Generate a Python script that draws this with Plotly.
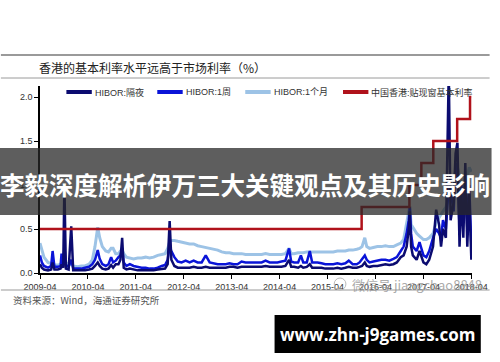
import plotly.graph_objects as go

# ---------------- data ----------------
dates = [
    # 2009
    "2009-04-01","2009-04-15","2009-05-01","2009-06-01","2009-06-25","2009-07-06","2009-07-20","2009-08-15",
    "2009-09-05","2009-09-12","2009-09-25","2009-10-04","2009-10-15","2009-11-05","2009-11-25","2009-12-10",
    # 2010
    "2010-01-10","2010-02-10","2010-03-10","2010-04-10","2010-05-05","2010-05-25","2010-06-15","2010-06-30",
    "2010-07-20","2010-08-15","2010-09-05","2010-09-25","2010-10-10","2010-10-30","2010-11-20","2010-12-05",
    "2010-12-18","2010-12-30",
    # 2011
    "2011-01-20","2011-02-15","2011-03-15","2011-04-15","2011-05-15","2011-06-15","2011-07-15","2011-08-15",
    "2011-09-15","2011-10-15","2011-11-10","2011-11-30","2011-12-15","2011-12-28",
    # 2012
    "2012-01-20","2012-02-15","2012-03-15","2012-04-15","2012-05-15","2012-06-15","2012-07-15","2012-08-15",
    "2012-09-15","2012-10-15","2012-11-15","2012-12-15",
    # 2013
    "2013-01-15","2013-02-15","2013-03-15","2013-04-15","2013-05-15","2013-06-15","2013-07-15","2013-08-15",
    "2013-09-15","2013-10-15","2013-11-15","2013-12-15",
    # 2014
    "2014-01-15","2014-02-15","2014-03-15","2014-04-15","2014-05-15","2014-06-12","2014-06-28","2014-07-20",
    "2014-08-20","2014-09-10","2014-09-28","2014-10-25","2014-11-17","2014-12-05","2014-12-25",
    # 2015
    "2015-01-15","2015-02-15","2015-03-15","2015-04-15","2015-05-15","2015-06-15","2015-07-15","2015-08-15",
    "2015-09-10","2015-10-10","2015-11-10","2015-12-01","2015-12-20",
    # 2016
    "2016-01-10","2016-01-25","2016-02-15","2016-03-15","2016-04-15","2016-05-15","2016-06-15","2016-07-15",
    "2016-08-15","2016-09-10","2016-10-10","2016-11-01","2016-11-24","2016-12-10","2016-12-18","2016-12-28",
    # 2017-2018
    "2017-01-10","2017-02-08","2017-03-02","2017-04-01","2017-04-23","2017-05-15","2017-06-13","2017-07-07",
    "2017-07-29","2017-08-13","2017-08-28","2017-09-19","2017-10-11","2017-10-25","2017-11-17","2017-12-02",
    "2017-12-16","2018-01-01","2018-01-15","2018-01-30","2018-02-14","2018-03-01","2018-03-16","2018-04-01",
]

hibor_overnight = [
    0.10,0.06,0.04,0.03,0.04,0.12,0.04,0.04,0.05,0.10,0.06,1.00,0.05,0.04,0.53,0.03,
    0.03,0.03,0.03,0.04,0.05,0.08,0.12,0.08,0.05,0.04,0.05,0.09,0.06,0.10,0.10,0.15,0.40,0.06,
    0.04,0.05,0.04,0.03,0.03,0.03,0.03,0.03,0.04,0.05,0.05,0.10,0.59,0.15,
    0.08,0.06,0.06,0.06,0.06,0.07,0.06,0.06,0.07,0.06,0.06,0.06,
    0.06,0.06,0.07,0.07,0.06,0.07,0.07,0.07,0.07,0.07,0.07,0.08,
    0.07,0.07,0.07,0.07,0.08,0.15,0.07,0.07,0.06,0.08,0.06,0.07,0.10,0.06,0.06,
    0.06,0.06,0.05,0.05,0.05,0.06,0.05,0.06,0.07,0.06,0.06,0.07,0.08,
    0.12,0.08,0.07,0.08,0.08,0.09,0.10,0.09,0.10,0.12,0.18,0.20,0.30,0.50,0.70,0.30,
    0.20,0.15,0.25,0.12,0.10,0.15,0.30,0.72,0.55,0.30,0.50,0.40,2.30,0.60,0.80,1.36,
    1.48,0.30,0.90,0.40,1.25,0.30,0.90,0.15,
]

hibor_1w = [
    0.20,0.12,0.08,0.06,0.08,0.25,0.07,0.07,0.08,0.22,0.10,0.30,0.09,0.07,0.15,0.05,
    0.05,0.05,0.06,0.07,0.10,0.15,0.26,0.16,0.10,0.08,0.10,0.18,0.12,0.14,0.18,0.20,0.28,0.12,
    0.08,0.10,0.08,0.07,0.06,0.06,0.05,0.05,0.06,0.08,0.09,0.15,0.30,0.25,
    0.18,0.13,0.12,0.14,0.12,0.14,0.12,0.12,0.20,0.12,0.11,0.10,
    0.10,0.10,0.11,0.10,0.10,0.13,0.12,0.12,0.12,0.12,0.12,0.14,
    0.12,0.12,0.12,0.13,0.14,0.28,0.13,0.12,0.12,0.20,0.12,0.12,0.25,0.12,0.12,
    0.12,0.11,0.10,0.10,0.10,0.11,0.10,0.11,0.14,0.10,0.10,0.12,0.16,
    0.20,0.15,0.12,0.13,0.14,0.15,0.15,0.14,0.16,0.18,0.25,0.30,0.45,0.60,0.75,0.45,
    0.30,0.25,0.35,0.20,0.18,0.25,0.40,0.50,0.45,0.40,0.60,0.50,1.00,0.94,0.70,1.25,
    1.17,0.50,1.00,0.60,1.10,0.50,1.00,0.30,
]

hibor_1m = [
    0.34,0.25,0.18,0.12,0.10,0.10,0.09,0.09,0.10,0.12,0.12,0.13,0.12,0.10,0.10,0.08,
    0.07,0.08,0.08,0.10,0.15,0.30,0.52,0.40,0.30,0.25,0.24,0.28,0.28,0.22,0.22,0.25,0.26,0.22,
    0.18,0.17,0.16,0.17,0.17,0.18,0.17,0.18,0.20,0.21,0.22,0.28,0.35,0.37,
    0.37,0.36,0.35,0.34,0.33,0.33,0.31,0.30,0.29,0.28,0.27,0.26,
    0.24,0.23,0.23,0.22,0.22,0.22,0.21,0.21,0.21,0.21,0.21,0.22,
    0.21,0.21,0.21,0.21,0.22,0.28,0.22,0.22,0.23,0.23,0.23,0.24,0.24,0.24,0.24,
    0.24,0.24,0.24,0.24,0.24,0.25,0.25,0.25,0.26,0.26,0.27,0.28,0.30,
    0.40,0.30,0.28,0.29,0.30,0.30,0.31,0.30,0.30,0.32,0.34,0.38,0.57,0.70,0.76,0.55,
    0.52,0.45,0.42,0.38,0.38,0.40,0.45,0.57,0.63,0.66,0.70,0.75,0.85,0.95,1.05,1.15,
    1.20,1.10,1.00,0.90,1.00,1.10,1.20,1.15,
]

base_dates = ["2009-04-01","2015-12-17","2016-12-15","2017-03-16","2017-06-15","2017-12-14","2018-03-22","2018-04-01"]
base_rate = [0.50,0.75,1.00,1.25,1.50,1.75,2.00,2.00]

tick_dates = ["2009-04-01","2010-04-01","2011-04-01","2012-04-01","2013-04-01",
              "2014-04-01","2015-04-01","2016-04-01","2017-04-01","2018-04-01"]
tick_labels = ["2009-04","2010-04","2011-04","2012-04","2013-04",
               "2014-04","2015-04","2016-04","2017-04","2018-04"]
y_ticks = [0.0, 0.5, 1.0, 1.5, 2.0]
y_labels = ["0.0", "0.5", "1.0", "1.5", "2.0"]

names = ["HIBOR:隔夜", "HIBOR:1周", "HIBOR:1个月", "中国香港:贴现窗基本利率"]
colors = ["#0B0B70", "#0A14D8", "#9DC3E6", "#B0121B"]
title_text = "香港的基本利率水平远高于市场利率（%）"
source_text = "资料来源：Wind，海通证券研究所"
banner_text = "李毅深度解析伊万三大关键观点及其历史影响"
site_text = "www.zhn-j9games.com"
wechat_text = "微信号 jiangchao8848"

# ---------------- layout geometry ----------------
W, H = 500, 362
L, R, T, B = 40, 18, 86, 89
PW, PH = W - L - R, H - T - B

def px(X):
    return (X - L) / PW

def py(Y):
    return (H - B - Y) / PH

CJK = "Noto Sans CJK SC"
LAT = "Liberation Sans, Noto Sans CJK SC"

fig = go.Figure()
fig.add_trace(go.Scatter(x=dates, y=hibor_1m, name=names[2], mode="lines",
                         line=dict(color=colors[2], width=3)))
fig.add_trace(go.Scatter(x=dates, y=hibor_1w, name=names[1], mode="lines",
                         line=dict(color=colors[1], width=2.5)))
fig.add_trace(go.Scatter(x=dates, y=hibor_overnight, name=names[0], mode="lines",
                         line=dict(color=colors[0], width=2.5)))
fig.add_trace(go.Scatter(x=base_dates, y=base_rate, name=names[3], mode="lines",
                         line=dict(color=colors[3], width=2.5, shape="hv")))

shapes = [
    dict(type="line", xref="paper", yref="paper", x0=px(0), x1=px(500), y0=py(55), y1=py(55),
         line=dict(color="#9A9A9A", width=2)),
    dict(type="line", xref="paper", yref="paper", x0=px(0), x1=px(500), y0=py(78), y1=py(78),
         line=dict(color="#9A9A9A", width=1)),
    dict(type="line", xref="paper", yref="paper", x0=px(0), x1=px(500), y0=py(290), y1=py(290),
         line=dict(color="#9A9A9A", width=1.2)),
]

annotations = [
    dict(text=title_text, x=px(37), y=py(67), xref="paper", yref="paper", xanchor="left",
         yanchor="middle", showarrow=False, font=dict(family=CJK, size=12, color="#222222")),
    dict(text=source_text, x=px(10), y=py(300), xref="paper", yref="paper", xanchor="left",
         yanchor="middle", showarrow=False, font=dict(family=CJK, size=9.5, color="#555555")),
]

# legend drawn by hand so that it stays on a single row as in the reference
leg_x = [67, 160, 250, 350]
for i in range(4):
    shapes.append(dict(type="line", xref="paper", yref="paper", x0=px(leg_x[i]), x1=px(leg_x[i] + 26),
                       y0=py(92), y1=py(92), line=dict(color=colors[i], width=4)))
    annotations.append(dict(text=names[i], x=px(leg_x[i] + 27), y=py(92), xref="paper", yref="paper",
                            xanchor="left", yanchor="middle", showarrow=False,
                            font=dict(family=LAT, size=9, color="#333333")))

# overlays
shapes += [
    dict(type="rect", xref="paper", yref="paper", x0=px(-2), x1=px(502), y0=py(215), y1=py(148),
         fillcolor="rgba(40,40,40,0.75)", line=dict(width=0), layer="above"),
    dict(type="rect", xref="paper", yref="paper", x0=px(280), x1=px(491), y0=py(353), y1=py(315),
         fillcolor="#000000", line=dict(width=0), layer="above"),
    dict(type="circle", xref="paper", yref="paper", x0=px(341), x1=px(353), y0=py(290), y1=py(278),
         line=dict(color="#BBBBBB", width=1), layer="above"),
]
annotations += [
    dict(text=wechat_text, x=px(357), y=py(284), xref="paper", yref="paper", xanchor="left",
         yanchor="middle", showarrow=False, font=dict(family=CJK, size=13, color="rgba(150,150,150,0.8)")),
    dict(text="<b>" + banner_text + "</b>", x=px(250), y=py(184), xref="paper", yref="paper",
         xanchor="center", yanchor="middle", showarrow=False,
         font=dict(family=CJK, size=24.5, color="#FFFFFF")),
    dict(text="<b>" + site_text + "</b>", x=px(385), y=py(334), xref="paper", yref="paper",
         xanchor="center", yanchor="middle", showarrow=False,
         font=dict(family="Open Sans, Noto Sans", size=17, color="#FFFFFF")),
]

fig.update_layout(
    width=W, height=H,
    margin=dict(l=L, r=R, t=T, b=B, pad=0),
    paper_bgcolor="white", plot_bgcolor="white",
    showlegend=False,
    shapes=shapes,
    annotations=annotations,
    xaxis=dict(type="date", range=["2009-04-01", "2018-04-06"], showgrid=False, zeroline=False,
               showline=True, linecolor="black", linewidth=1.5, ticks="outside", ticklen=4,
               tickcolor="black", tickvals=tick_dates, ticktext=tick_labels,
               tickfont=dict(family=LAT, size=9, color="#333333")),
    yaxis=dict(range=[0, PH / 88.0], showgrid=False, zeroline=False, showline=True,
               linecolor="black", linewidth=1.5, ticks="outside", ticklen=4, tickcolor="black",
               tickvals=y_ticks, ticktext=y_labels,
               tickfont=dict(family=LAT, size=9, color="#333333")),
)

fig.write_html("out.html")
